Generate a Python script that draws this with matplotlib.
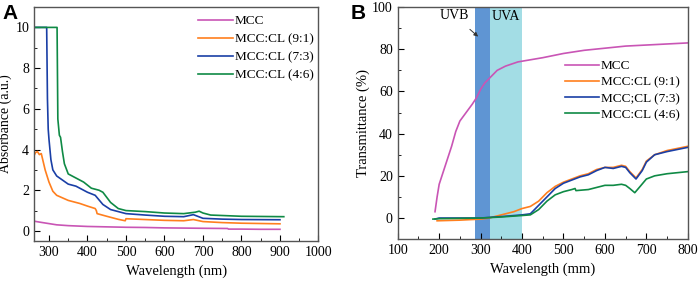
import numpy as np
import matplotlib.pyplot as plt

plt.rcParams["font.family"] = ["Liberation Serif", "DejaVu Serif"]

# ---- panel A: absorbance ----
mcc_a_x = [261, 280, 300, 320, 350, 400, 450, 500, 550, 600, 650, 700, 764, 766, 800, 850, 900]
mcc_a_y = [0.48, 0.42, 0.36, 0.30, 0.26, 0.22, 0.20, 0.18, 0.17, 0.15, 0.14, 0.13, 0.12, 0.09, 0.09, 0.08, 0.08]

cl91_a_x = [261, 265, 270, 275, 280, 285, 290, 300, 310, 320, 350, 380, 400, 420, 423, 425, 450, 480, 498, 500,
            550, 600, 650, 675, 700, 750, 800, 900]
cl91_a_y = [3.7, 3.85, 3.9, 3.75, 3.8, 3.4, 3.0, 2.4, 1.95, 1.75, 1.5, 1.35, 1.22, 1.1, 1.0, 0.85, 0.72, 0.57, 0.5, 0.6,
            0.56, 0.52, 0.5, 0.56, 0.46, 0.41, 0.38, 0.35]

cl73_a_x = [261, 294, 296, 298, 300, 305, 310, 320, 350, 370, 400, 420, 440, 460, 500, 550, 600, 650, 675, 700,
            750, 800, 900]
cl73_a_y = [10.0, 10.0, 6.5, 5.0, 4.5, 3.5, 3.0, 2.7, 2.3, 2.2, 1.9, 1.75, 1.3, 1.05, 0.85, 0.78, 0.72, 0.70, 0.80, 0.62,
            0.58, 0.56, 0.55]

cl46_a_x = [261, 321, 323, 327, 330, 335, 340, 350, 370, 390, 410, 430, 440, 460, 480, 500, 550, 600, 650, 680,
            690, 700, 720, 800, 910]
cl46_a_y = [10.0, 10.0, 5.5, 4.7, 4.6, 3.9, 3.3, 2.8, 2.6, 2.4, 2.1, 2.0, 1.9, 1.4, 1.1, 1.0, 0.95, 0.88, 0.85, 0.92,
            0.97, 0.88, 0.78, 0.72, 0.70]

# ---- panel B: transmittance ----
mcc_b_x = [190, 195, 200, 210, 220, 230, 240, 250, 265, 280, 290, 300, 310, 320, 340, 360, 390, 420, 450, 500,
           550, 600, 650, 700, 750, 800]
mcc_b_y = [3, 10, 16, 22, 28, 34, 41, 46, 50, 54, 57, 61, 64, 66, 70, 72, 74, 75, 76, 78,
           79.5, 80.5, 81.5, 82, 82.5, 83]

cl91_b_x = [195, 250, 300, 320, 350, 380, 400, 420, 440, 460, 480, 500, 520, 540, 560, 580, 600, 620, 640, 650,
            660, 675, 690, 700, 720, 750, 800]
cl91_b_y = [-1.3, -1.0, -0.5, 0.0, 1.5, 3.0, 4.5, 5.5, 8.0, 12.0, 15.0, 17.0, 18.5, 20.0, 21.0, 23.0, 24.0, 24.0, 25.0, 24.5,
            22.0, 19.0, 23.0, 27.0, 30.0, 32.0, 34.0]

cl73_b_x = [190, 200, 300, 350, 400, 420, 440, 460, 480, 500, 520, 540, 560, 580, 600, 620, 640, 650,
            660, 675, 690, 700, 720, 750, 800]
cl73_b_y = [-0.5, 0.0, 0.0, 0.7, 1.5, 2.0, 6.0, 10.0, 14.0, 16.5, 18.0, 19.5, 20.5, 22.5, 24.0, 23.5, 24.5, 24.0,
            21.5, 18.5, 22.5, 26.5, 30.0, 31.5, 33.5]

cl46_b_x = [185, 200, 300, 350, 400, 420, 440, 460, 480, 500, 520, 528, 530, 560, 580, 600, 620, 640, 650,
            660, 672, 685, 700, 720, 750, 800]
cl46_b_y = [-0.5, -0.3, 0.0, 0.5, 1.2, 1.5, 4.0, 8.0, 11.0, 12.5, 13.5, 14.0, 13.0, 13.5, 14.5, 15.5, 15.5, 16.0, 15.5,
            14.0, 12.0, 15.0, 18.5, 20.0, 21.0, 22.0]

uvb_range = (287, 322)
uva_range = (322, 400)

C_MCC = "#c955b5"
C_91 = "#ff7f1e"
C_73 = "#1a3fa6"
C_46 = "#0f8a45"


def style_axes(ax):
    ax.tick_params(which="both", direction="in", top=False, right=False, labelsize=10)
    ax.tick_params(which="major", length=4)
    ax.tick_params(which="minor", length=2)
    for s in ax.spines.values():
        s.set_color("#555555")
        s.set_linewidth(1.0)


fig = plt.figure(figsize=(6.99, 2.82), dpi=100)
axA = fig.add_axes([0.0486, 0.145, 0.407, 0.830])
axB = fig.add_axes([0.569, 0.152, 0.415, 0.823])

lw = 1.2
axA.plot(mcc_a_x, mcc_a_y, color=C_MCC, lw=lw, label="MCC")
axA.plot(cl91_a_x, cl91_a_y, color=C_91, lw=lw, label="MCC:CL (9:1)")
axA.plot(cl73_a_x, cl73_a_y, color=C_73, lw=lw, label="MCC:CL (7:3)")
axA.plot(cl46_a_x, cl46_a_y, color=C_46, lw=lw, label="MCC:CL (4:6)")
axA.set_xlim(261, 1000)
axA.set_ylim(-0.5, 11)
axA.set_xticks(np.arange(300, 1001, 100))
axA.set_xticks(np.arange(350, 1000, 100), minor=True)
axA.set_yticks(np.arange(0, 11, 2))
axA.set_yticks(np.arange(1, 11, 2), minor=True)
axA.set_xlabel("Wavelength (nm)", fontsize=10.5, labelpad=4)
axA.set_ylabel("Absorbance (a.u.)", fontsize=10)
axA.yaxis.set_label_coords(-0.076, 0.5)
style_axes(axA)
axA.legend(loc="upper right", frameon=False, fontsize=9.5, handlelength=2.6,
           handletextpad=0.15, labelspacing=0.45, borderaxespad=0.2,
           bbox_to_anchor=(1.01, 1.0))
fig.text(0.004, 0.985, "A", fontsize=15, fontweight="bold", family="Liberation Sans", va="top")

axB.axvspan(*uvb_range, color="#5f95d3", lw=0, zorder=0)
axB.axvspan(*uva_range, color="#a3dde5", lw=0, zorder=0)
axB.plot(mcc_b_x, mcc_b_y, color=C_MCC, lw=lw, label="MCC")
axB.plot(cl91_b_x, cl91_b_y, color=C_91, lw=lw, label="MCC:CL (9:1)")
axB.plot(cl73_b_x, cl73_b_y, color=C_73, lw=lw, label="MCC;CL (7:3)")
axB.plot(cl46_b_x, cl46_b_y, color=C_46, lw=lw, label="MCC:CL (4:6)")
axB.set_xlim(100, 800)
axB.set_ylim(-10, 100)
axB.set_xticks(np.arange(100, 801, 100))
axB.set_xticks(np.arange(150, 800, 100), minor=True)
axB.set_yticks(np.arange(0, 101, 20))
axB.set_yticks(np.arange(10, 100, 20), minor=True)
axB.set_xlabel("Wavelength (mm)", fontsize=10.5, labelpad=4)
axB.set_ylabel("Transmittance (%)", fontsize=10.5)
axB.yaxis.set_label_coords(-0.095, 0.5)
style_axes(axB)
axB.legend(loc="upper right", frameon=False, fontsize=9.5, handlelength=2.6,
           handletextpad=0.15, labelspacing=0.3, borderaxespad=0.2,
           bbox_to_anchor=(1.0, 0.805))
axB.annotate("UVB", xy=(294, 86), xytext=(236, 96), fontsize=10, ha="center", va="center",
             arrowprops=dict(arrowstyle="-|>", color="#333333", lw=0.7, mutation_scale=6,
                             shrinkA=5, shrinkB=0))
axB.text(361, 95.5, "UVA", fontsize=10, ha="center", va="center")
fig.text(0.502, 0.985, "B", fontsize=15, fontweight="bold", family="Liberation Sans", va="top")

fig.savefig("out.png", dpi=100)
